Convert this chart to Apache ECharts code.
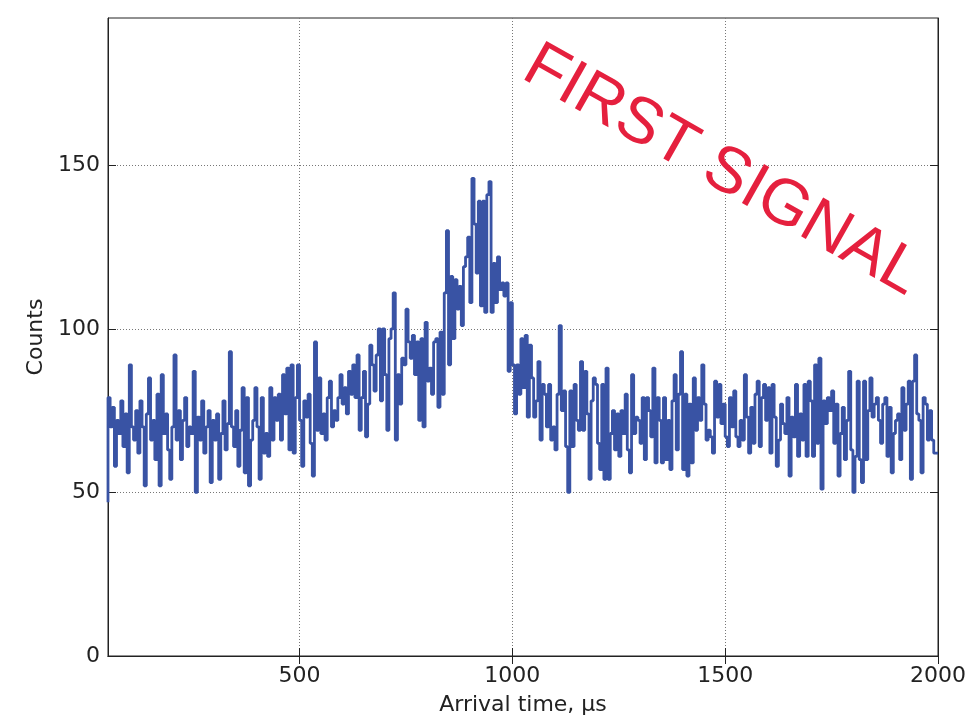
<!DOCTYPE html>
<html>
<head>
<meta charset="utf-8">
<script src="https://cdn.jsdelivr.net/npm/echarts@6/dist/echarts.min.js"></script>
<style>
  html, body { margin: 0; padding: 0; background: #fff; }
  #chart { width: 969px; height: 721px; }
</style>
</head>
<body>
<div id="chart"></div>
<script>
// histogram: 5 µs bins from 50 to 2000 µs
var binStart = 50;
var binWidth = 5;
var counts = [
  47, 79, 70, 76, 58, 72, 68, 78, 64, 74,
  56, 89, 70, 66, 75, 62, 78, 70, 52, 74,
  85, 66, 72, 60, 80, 52, 86, 68, 74, 63,
  54, 70, 92, 66, 75, 60, 72, 79, 64, 70,
  68, 87, 50, 73, 66, 78, 62, 70, 75, 53,
  72, 66, 74, 54, 68, 78, 63, 71, 93, 70,
  64, 75, 58, 69, 82, 56, 79, 52, 66, 72,
  82, 70, 54, 79, 62, 68, 61, 82, 66, 79,
  72, 80, 66, 86, 74, 88, 63, 89, 62, 79,
  89, 72, 58, 78, 73, 80, 65, 55, 96, 69,
  85, 68, 74, 66, 79, 84, 70, 75, 72, 79,
  86, 77, 82, 74, 87, 80, 89, 79, 92, 69,
  79, 87, 67, 77, 95, 89, 81, 92, 100, 78,
  100, 86, 69, 97, 100, 111, 66, 86, 77, 91,
  89, 106, 96, 91, 98, 86, 96, 72, 97, 70,
  102, 84, 88, 80, 96, 97, 76, 99, 80, 111,
  130, 89, 116, 97, 115, 106, 113, 101, 119, 122,
  128, 108, 146, 132, 117, 139, 107, 139, 105, 141,
  145, 105, 120, 108, 122, 112, 114, 110, 114, 87,
  108, 89, 74, 89, 80, 97, 82, 98, 73, 95,
  85, 73, 78, 90, 66, 83, 80, 70, 83, 66,
  70, 63, 80, 101, 75, 81, 64, 50, 81, 64,
  83, 72, 69, 90, 69, 87, 74, 54, 78, 85,
  83, 65, 57, 83, 54, 88, 54, 68, 75, 63,
  74, 61, 75, 68, 80, 63, 56, 86, 68, 73,
  72, 65, 79, 60, 79, 75, 67, 88, 59, 79,
  72, 59, 79, 60, 72, 57, 78, 86, 63, 80,
  93, 57, 80, 55, 77, 59, 85, 69, 79, 72,
  89, 77, 66, 69, 67, 62, 84, 73, 83, 71,
  77, 67, 64, 79, 70, 81, 67, 64, 72, 66,
  86, 73, 62, 76, 65, 80, 84, 64, 79, 83,
  72, 82, 62, 83, 73, 58, 66, 77, 71, 68,
  79, 55, 73, 67, 83, 61, 74, 66, 83, 61,
  84, 78, 61, 89, 65, 91, 51, 78, 71, 79,
  75, 81, 65, 77, 55, 68, 76, 60, 72, 87,
  63, 50, 61, 84, 60, 53, 84, 60, 75, 85,
  73, 77, 79, 72, 65, 77, 79, 61, 76, 56,
  68, 72, 74, 60, 82, 69, 77, 84, 54, 84,
  92, 74, 72, 56, 79, 77, 66, 75, 66, 62
];
var xTicks = [500, 1000, 1500, 2000];
var yTicks = [0, 50, 100, 150];
var xRange = [50, 2000];
var yRange = [0, 195];

var histData = counts.map(function (c, i) { return [binStart + binWidth * i, c]; });
histData.push([binStart + binWidth * counts.length, counts[counts.length - 1]]);

var font = '"DejaVu Sans", sans-serif';
var textColor = '#222';
var gridLine = { show: true, lineStyle: { color: '#777', type: [1, 2], width: 1 } };
var plain = function (v) { return String(v); };

var chart = echarts.init(document.getElementById('chart'));
chart.setOption({
  animation: false,
  backgroundColor: '#fff',
  grid: { left: 108, right: 29, top: 18, bottom: 60, show: true, borderColor: '#222', borderWidth: 1 },
  xAxis: [
    {
      type: 'value', min: xRange[0], max: xRange[1],
      name: 'Arrival time, µs', nameLocation: 'middle', nameGap: 38,
      nameTextStyle: { fontFamily: font, fontSize: 22, color: textColor },
      axisLine: { show: true, lineStyle: { color: '#222' } },
      axisTick: { show: true, inside: true, length: 8, customValues: xTicks, lineStyle: { color: '#222' } },
      axisLabel: { customValues: xTicks, formatter: plain, margin: 9, fontFamily: font, fontSize: 22, color: textColor },
      splitLine: gridLine
    },
    {
      type: 'value', position: 'top', min: xRange[0], max: xRange[1],
      axisLine: { show: true, lineStyle: { color: '#222' } },
      axisTick: { show: true, inside: true, length: 8, customValues: xTicks, lineStyle: { color: '#222' } },
      axisLabel: { show: false },
      splitLine: { show: false }
    }
  ],
  yAxis: [
    {
      type: 'value', min: yRange[0], max: yRange[1],
      name: 'Counts', nameLocation: 'middle', nameGap: 61,
      nameTextStyle: { fontFamily: font, fontSize: 22, color: textColor },
      axisLine: { show: true, lineStyle: { color: '#222' } },
      axisTick: { show: true, inside: true, length: 8, customValues: yTicks, lineStyle: { color: '#222' } },
      axisLabel: { customValues: yTicks, formatter: plain, margin: 8, fontFamily: font, fontSize: 22, color: textColor },
      splitLine: gridLine
    },
    {
      type: 'value', position: 'right', min: yRange[0], max: yRange[1],
      axisLine: { show: true, lineStyle: { color: '#222' } },
      axisTick: { show: true, inside: true, length: 8, customValues: yTicks, lineStyle: { color: '#222' } },
      axisLabel: { show: false },
      splitLine: { show: false }
    }
  ],
  series: [
    {
      type: 'line',
      step: 'start',
      data: histData,
      showSymbol: false,
      lineStyle: { color: '#3953a4', width: 2.8 },
      clip: true
    }
  ],
  graphic: [
    {
      type: 'text',
      x: 722, y: 171,
      rotation: -29.5 * Math.PI / 180,
      z: 100,
      style: {
        text: 'FIRST SIGNAL',
        font: '65px "Liberation Sans", Arial, sans-serif',
        fill: '#e5203e',
        align: 'center',
        verticalAlign: 'middle'
      }
    }
  ]
});
</script>
</body>
</html>
